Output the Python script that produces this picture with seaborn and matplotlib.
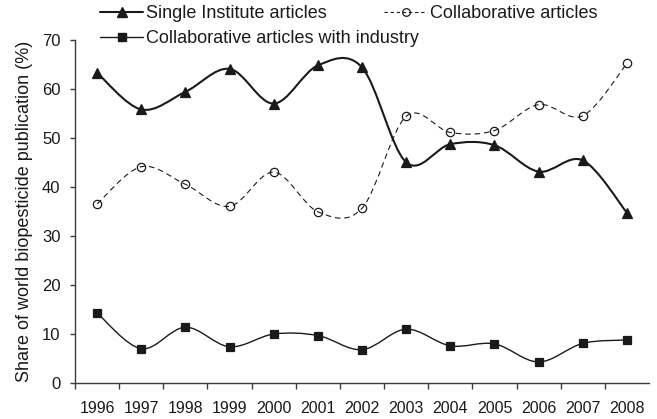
import numpy as np
import matplotlib
matplotlib.use("Agg")
import matplotlib.pyplot as plt
import seaborn as sns
from matplotlib.path import Path
from matplotlib.patches import PathPatch
from matplotlib.lines import Line2D

# ==========================
# DATA
# ==========================
years = ["1996", "1997", "1998", "1999", "2000", "2001", "2002",
         "2003", "2004", "2005", "2006", "2007", "2008"]
single_institute = [63.3, 55.8, 59.4, 64.1, 57.0, 64.8, 64.4,
                    45.0, 48.7, 48.5, 43.1, 45.4, 34.7]
collaborative = [36.5, 44.1, 40.5, 36.0, 43.0, 34.9, 35.6,
                 54.4, 51.1, 51.5, 56.8, 54.5, 65.2]
collab_industry = [14.2, 6.9, 11.3, 7.3, 9.9, 9.6, 6.7,
                   10.9, 7.5, 7.9, 4.2, 8.0, 8.7]

FONT = ["Liberation Sans Narrow", "Liberation Sans", "DejaVu Sans"]
INK = "#1a1a1a"
AXIS = "#3c3c3c"

sns.set_theme(style="white")
plt.rcParams["font.family"] = FONT
plt.rcParams["font.size"] = 13


def smooth_path(xs, ys):
    # Excel-style smoothed line: cubic Bezier segments (Catmull-Rom control points)
    pts = np.column_stack([xs, ys]).astype(float)
    ext = np.vstack([pts[0], pts, pts[-1]])
    verts = [pts[0]]
    codes = [Path.MOVETO]
    for i in range(1, len(ext) - 2):
        p0, p1, p2, p3 = ext[i - 1], ext[i], ext[i + 1], ext[i + 2]
        c1 = p1 + (p2 - p0) / 6.0
        c2 = p2 - (p3 - p1) / 6.0
        verts += [c1, c2, p2]
        codes += [Path.CURVE4] * 3
    return Path(verts, codes)


fig = plt.figure(figsize=(6.57, 4.19), dpi=100)
ax = fig.add_axes([75 / 657, 1 - 382.5 / 419, 574 / 657, 342.5 / 419])

pos = np.arange(len(years))

series = [
    (single_institute, "^", "-", 1.5, 7.5, INK, INK),
    (collaborative, "o", (0, (5, 3.5)), 0.8, 6.0, "none", INK),
    (collab_industry, "s", "-", 1.0, 5.5, INK, INK),
]

for vals, mk, ls, lw, ms, mfc, mec in series:
    ax.add_patch(PathPatch(smooth_path(pos, vals), fill=False, edgecolor=INK,
                           linewidth=lw, linestyle=ls, zorder=2))
    sns.lineplot(x=pos, y=vals, ax=ax, marker=mk, linestyle="none", color=INK,
                 markersize=ms, markerfacecolor=mfc, markeredgecolor=mec,
                 markeredgewidth=0.9, zorder=3)

# axes styling
ax.set_xlim(-0.5, len(years) - 0.5)
ax.set_ylim(0, 70)
ax.set_yticks(range(0, 71, 10))
ax.set_xticks(pos)
ax.set_xticklabels(years)
ax.set_xticks(np.arange(-0.5, len(years) - 1, 1.0), minor=True)
ax.tick_params(axis="x", which="major", length=0, pad=13, labelsize=11.5, labelcolor=INK)
ax.tick_params(axis="x", which="minor", direction="out", length=4.2, width=1.0,
               color=AXIS, bottom=True)
ax.tick_params(axis="y", direction="out", length=3.5, width=1.0, color=AXIS,
               pad=7, labelsize=12, labelcolor=INK, left=True)
for side in ["top", "right"]:
    ax.spines[side].set_visible(False)
for side in ["left", "bottom"]:
    ax.spines[side].set_color(AXIS)
    ax.spines[side].set_linewidth(1.0)
ax.set_xlabel("")
ax.set_ylabel("Share of world biopesticide publication (%)", fontsize=13,
              color=INK)
ax.yaxis.set_label_coords(-42 / 574, 0.5)
ax.grid(False)
ax.set_facecolor("white")

# legend (two blocks, as in the original figure)
h_single = Line2D([], [], color=INK, lw=1.5, marker="^", ms=7.5)
h_ind = Line2D([], [], color=INK, lw=1.0, marker="s", ms=5.5)
h_col = Line2D([], [], color=INK, lw=0.8, ls=(0, (3, 2.5)), marker="o", ms=5.5,
               mfc="none", mew=0.9)

leg_kw = dict(frameon=False, fontsize=13, handlelength=2.4, handletextpad=0.15,
              borderpad=0, borderaxespad=0, labelspacing=0.45,
              labelcolor=INK, loc="upper left")
fig.legend([h_single, h_ind],
           ["Single Institute articles", "Collaborative articles with industry"],
           bbox_to_anchor=(100 / 657, 1 - 5 / 419), **leg_kw)
fig.legend([h_col], ["Collaborative articles"],
           bbox_to_anchor=(384 / 657, 1 - 5 / 419), **leg_kw)

fig.savefig("out.png", dpi=100, facecolor="white")
